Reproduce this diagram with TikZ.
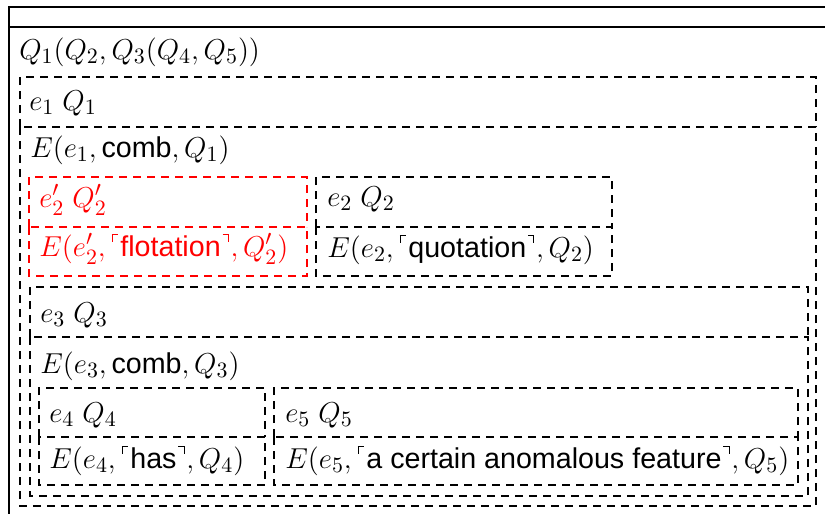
\documentclass[tikz,border=0pt]{standalone}
\usepackage{amssymb}
\usepackage{fontspec}
\setsansfont{Liberation Sans}[Scale=0.955]
\newcommand{\ulc}{\mbox{\kern0.7pt\rule[7.1pt]{0.5pt}{3.7pt}\kern-0.5pt\rule[10.3pt]{3.1pt}{0.5pt}\kern1.1pt}}
\newcommand{\urc}{\mbox{\kern0.9pt\rule[10.3pt]{3.1pt}{0.5pt}\kern-0.5pt\rule[7.1pt]{0.5pt}{3.7pt}\kern0.9pt}}
\newcommand{\sq}[1]{\ulc\textsf{#1}\urc}
\begin{document}
\begin{tikzpicture}[x=0.5pt,y=-0.5pt,
  frame/.style={line width=0.6pt},
  dbox/.style={line width=0.6pt,dash pattern=on 4pt off 3pt},
  rbox/.style={dbox,draw=red},
  lbl/.style={anchor=base west,inner sep=0pt,font=\fontsize{15}{18}\selectfont},
  rlbl/.style={lbl,text=red}]
\useasboundingbox (0,0) rectangle (825,514);
% outer frame
\draw[frame] (9,530) -- (9,7) -- (840,7);
\draw[frame] (9,27) -- (840,27);
% boxes: header row (open at its bottom) + body row
\draw[dbox] (20,127) -- (20,77) -- (816,77) -- (816,127);
\draw[dbox] (20,127) rectangle (816,506);
\draw[rbox] (29,227) -- (29,177) -- (307,177) -- (307,227);
\draw[rbox] (29,227) rectangle (307,276);
\draw[dbox] (316,227) -- (316,177) -- (612,177) -- (612,227);
\draw[dbox] (316,227) rectangle (612,276);
\draw[dbox] (30,337) -- (30,287) -- (808,287) -- (808,337);
\draw[dbox] (30,337) rectangle (808,496);
\draw[dbox] (39,437) -- (39,388) -- (265,388) -- (265,437);
\draw[dbox] (39,437) rectangle (265,485);
\draw[dbox] (274,437) -- (274,388) -- (798,388) -- (798,437);
\draw[dbox] (274,437) rectangle (798,485);
% labels
\node[lbl] (t0) at (19,59) {$Q_1(Q_2, Q_3(Q_4, Q_5))$};
\node[lbl] (t1a) at (29,110) {$e_1\;Q_1$};
\node[lbl] (t1b) at (30,157) {$E(e_1, \textsf{comb}, Q_1)$};
\node[rlbl] (t2ra) at (39,207) {$e'_2\;Q'_2$};
\node[rlbl] (t2rb) at (39,256) {$E(e'_2, \sq{flotation}, Q'_2)$};
\node[lbl] (t2a) at (327,206) {$e_2\;Q_2$};
\node[lbl] (t2b) at (327,257) {$E(e_2, \sq{quotation}, Q_2)$};
\node[lbl] (t3a) at (40,322) {$e_3\;Q_3$};
\node[lbl] (t3b) at (40,373) {$E(e_3, \textsf{comb}, Q_3)$};
\node[lbl] (t4a) at (49,422) {$e_4\;Q_4$};
\node[lbl] (t4b) at (49,468) {$E(e_4, \sq{has}, Q_4)$};
\node[lbl] (t5a) at (285,422) {$e_5\;Q_5$};
\node[lbl] (t5b) at (285,468) {$E(e_5, \sq{a certain anomalous feature}, Q_5)$};
\end{tikzpicture}
\end{document}
